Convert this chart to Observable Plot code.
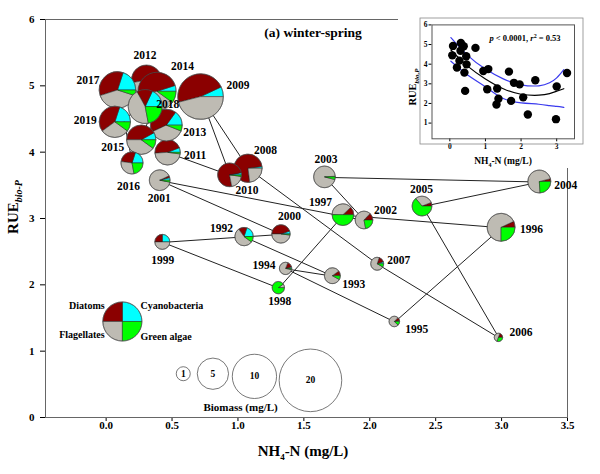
<!DOCTYPE html>
<html><head><meta charset="utf-8">
<script src="https://cdn.jsdelivr.net/npm/d3@7"></script>
<script src="https://cdn.jsdelivr.net/npm/@observablehq/plot@0.6"></script>
<style>
body{margin:0;background:#fff;}
#wrap{position:relative;width:600px;height:474px;overflow:hidden;}
#wrap svg{display:block;}
</style></head>
<body><div id="wrap"></div>
<script>
// ---------- data ----------
const years   = [1992,1993,1994,1995,1996,1997,1998,1999,2000,2001,2002,2003,2004,2005,2006,2007,2008,2009,2010,2011,2012,2013,2014,2015,2016,2017,2018,2019];
const nh4     = [1.05,1.72,1.365,2.19,3.00,1.80,1.31,0.43,1.33,0.41,1.96,1.66,3.29,2.40,2.98,2.06,1.08,0.72,0.94,0.47,0.31,0.46,0.39,0.27,0.20,0.09,0.30,0.07];
const rue     = [2.72,2.13,2.24,1.44,2.86,3.05,1.95,2.64,2.76,3.57,2.97,3.62,3.55,3.18,1.20,2.31,3.75,4.83,3.65,3.99,5.08,4.40,4.91,4.18,3.83,4.93,4.68,4.45];
const biomass = [1.73,1.3,0.78,0.57,4.0,2.4,0.78,1.15,1.73,2.2,1.6,2.4,2.7,2.0,0.36,0.86,4.1,10.6,2.9,3.3,4.6,5.2,7.4,4.4,2.5,6.8,5.9,5.0];
// composition fractions (order drawn counter-clockwise from 3 o'clock)
const cyano   = [0.20,0.00,0.04,0.03,0.00,0.00,0.00,0.25,0.05,0.04,0.00,0.00,0.00,0.00,0.00,0.05,0.02,0.07,0.03,0.06,0.03,0.15,0.05,0.08,0.20,0.20,0.18,0.20];
const diatoms = [0.15,0.10,0.15,0.10,0.07,0.12,0.00,0.25,0.45,0.03,0.13,0.01,0.04,0.06,0.20,0.15,0.75,0.47,0.75,0.45,0.50,0.42,0.48,0.42,0.28,0.35,0.15,0.40];
const flag    = [0.55,0.82,0.78,0.75,0.68,0.38,0.10,0.50,0.48,0.90,0.65,0.95,0.72,0.30,0.50,0.72,0.23,0.46,0.20,0.47,0.45,0.37,0.37,0.40,0.30,0.40,0.45,0.30];
const green   = [0.10,0.08,0.03,0.12,0.25,0.50,0.90,0.00,0.02,0.03,0.22,0.04,0.24,0.64,0.30,0.08,0.00,0.00,0.02,0.02,0.02,0.06,0.10,0.10,0.22,0.05,0.22,0.10];
const groups  = ["Cyanobacteria","Diatoms","Flagellates","Green algae"];

const xTicks = [0,0.5,1,1.5,2,2.5,3,3.5];
const yTicks = [0,1,2,3,4,5,6];
const sizeLegendValues = [1,5,10,20];
const insetXTicks = [0,1,2,3];
const insetYTicks = [1,2,3,4,5,6];

// inset curves
const curveX = [0.03,0.5,1,1.5,2,2.5,2.8,3.0,3.2];
const fitY   = [4.72,3.90,3.25,2.75,2.47,2.42,2.50,2.62,2.75];
const upperY = [5.35,4.45,3.75,3.25,2.95,2.90,3.05,3.30,3.72];
const lowerY = [4.15,3.45,2.85,2.25,2.03,1.96,1.89,1.85,1.80];

// ---------- layout / style ----------
const colors = {"Cyanobacteria":"#00ffff","Diatoms":"#8b0000","Flagellates":"#bebbb3","Green algae":"#00ff00"};
const serif = "'Liberation Serif','Times New Roman',serif";
const labelOff = {1992:[-23,-9],1993:[21,8],1994:[-22,-4],1995:[22,7],1996:[30,2],1997:[-23,-13],1998:[1,13],1999:[0,18],2000:[8,-18],2001:[-1,18],2002:[21,-10],2003:[1,-18],2004:[26,3],2005:[-1,-17],2006:[22,-6],2007:[21,-4],2008:[17,-18],2009:[37,-12],2010:[17,15],2011:[27,2],2012:[-2,-25],2013:[28,7],2014:[25,-25],2015:[-29,7],2016:[-4,23],2017:[-30,-10],2018:[22,-3],2019:[-30,-2]};
const sizeLegendPos = {x:[0.585,0.81,1.125,1.55], y:[0.66,0.66,0.62,0.56]};
const pieLegend = {x:0.127, y:1.44, b:7.8};
const pieLegendLabels = [
  {t:"Diatoms", x:-0.011, y:1.69, a:"end"},
  {t:"Flagellates", x:-0.011, y:1.24, a:"end"},
  {t:"Cyanobacteria", x:0.261, y:1.69, a:"start"},
  {t:"Green algae", x:0.261, y:1.22, a:"start"}
];

const rows = years.map((year,i)=>({year, nh4:nh4[i], rue:rue[i], biomass:biomass[i], parts:[cyano[i],diatoms[i],flag[i],green[i]]}));
const sizeRows = sizeLegendValues.map((b,i)=>({b, x:sizeLegendPos.x[i], y:sizeLegendPos.y[i]}));
const curveRows = (ys)=>curveX.map((x,i)=>({x, y:ys[i]}));

function drawPie(g, cx, cy, r, parts){
  const total = d3.sum(parts);
  let a0 = 0;
  const pg = g.append("g");
  parts.forEach((f,i)=>{
    if (f <= 0) return;
    const frac = f/total;
    const a1 = a0 + frac*2*Math.PI;
    let d;
    if (frac > 0.9999) d = `M${cx+r},${cy}A${r},${r} 0 1 0 ${cx-r},${cy}A${r},${r} 0 1 0 ${cx+r},${cy}Z`;
    else {
      const p0 = [cx + r*Math.cos(a0), cy - r*Math.sin(a0)];
      const p1 = [cx + r*Math.cos(a1), cy - r*Math.sin(a1)];
      d = `M${cx},${cy}L${p0[0]},${p0[1]}A${r},${r} 0 ${frac>0.5?1:0} 0 ${p1[0]},${p1[1]}Z`;
    }
    pg.append("path").attr("d", d).attr("fill", colors[groups[i]])
      .attr("stroke", "#222").attr("stroke-width", 0.5).attr("stroke-linejoin","round");
    a0 = a1;
  });
  pg.append("circle").attr("cx",cx).attr("cy",cy).attr("r",r)
    .attr("fill","none").attr("stroke","#555").attr("stroke-width",0.6);
}

const fallbackR = d3.scaleSqrt([0,20],[0,7*Math.sqrt(20)]);

function piesMark(index, scales){
  const X = scales.x, Y = scales.y, R = scales.r || fallbackR;
  const g = d3.create("svg:g");
  for (const d of rows) drawPie(g, X(d.nh4), Y(d.rue), R(d.biomass), d.parts);
  drawPie(g, X(pieLegend.x), Y(pieLegend.y), R(pieLegend.b), [1,1,1,1]);
  return g.node();
}

function annotMark(){
  const g = d3.create("svg:g").attr("font-family", serif).attr("font-weight","bold").attr("fill","#000");
  g.append("text").attr("x",313).attr("y",37).attr("text-anchor","middle").attr("font-size",13.5).text("(a) winter-spring");
  const xl = g.append("text").attr("x",303).attr("y",456).attr("text-anchor","middle").attr("font-size",15);
  xl.append("tspan").text("NH");
  xl.append("tspan").attr("font-size",9).attr("dy",4).text("4");
  xl.append("tspan").attr("dy",-4).text("-N (mg/L)");
  const yl = g.append("text").attr("transform","translate(18,207) rotate(-90)").attr("text-anchor","middle").attr("font-size",15);
  yl.append("tspan").text("RUE");
  yl.append("tspan").attr("font-size",10).attr("font-style","italic").attr("dy",4).text("bio-P");
  return g.node();
}

const main = Plot.plot({
  width:600, height:474,
  marginLeft:45, marginRight:33, marginTop:19, marginBottom:57,
  style:{fontFamily:serif, fontWeight:"bold", fontSize:"11px", color:"#000", background:"#fff", overflow:"visible"},
  x:{domain:[-0.46,3.5], ticks:xTicks, tickFormat:d3.format(".1f"), tickSize:4, tickPadding:0, label:null},
  y:{domain:[0,6], ticks:yTicks, tickFormat:d3.format("d"), tickSize:5, tickPadding:6, label:null},
  r:{type:"sqrt", domain:[0,20], range:[0,7*Math.sqrt(20)]},
  marks:[
    Plot.frame({stroke:"#666"}),
    Plot.line(rows, {x:"nh4", y:"rue", stroke:"#222", strokeWidth:1}),
    Plot.dot(sizeRows, {x:"x", y:"y", r:"b", fill:"#fff", stroke:"#555", strokeWidth:0.8}),
    Plot.text(sizeRows, {x:"x", y:"y", text:d=>String(d.b), fontSize:9.5}),
    piesMark,
    ...rows.map(d=>Plot.text([d], {x:"nh4", y:"rue", text:d=>String(d.year), dx:labelOff[d.year][0], dy:labelOff[d.year][1], fontSize:11.5})),
    Plot.text(pieLegendLabels.filter(d=>d.a==="end"), {x:"x", y:"y", text:"t", textAnchor:"end", fontSize:10}),
    Plot.text(pieLegendLabels.filter(d=>d.a==="start"), {x:"x", y:"y", text:"t", textAnchor:"start", fontSize:10}),
    Plot.text(["Biomass (mg/L)"], {x:1.02, y:0.15, text:d=>d, fontSize:11}),
    annotMark
  ]
});

// ---------- inset ----------
function insetDecor(){
  const g = d3.create("svg:g").attr("font-family", serif).attr("font-weight","bold").attr("fill","#000");
  g.append("rect").attr("x",22).attr("y",2).attr("width",163).attr("height",126).attr("fill","none").attr("stroke","#888").attr("stroke-width",0.8);
  return g.node();
}
function insetText(){
  const g = d3.create("svg:g").attr("font-family", serif).attr("font-weight","bold").attr("fill","#000");
  const st = g.append("text").attr("x",127).attr("y",25).attr("text-anchor","middle").attr("font-size",8.5);
  st.append("tspan").attr("font-style","italic").text("p");
  st.append("tspan").text(" < 0.0001, ");
  st.append("tspan").attr("font-style","italic").text("r");
  st.append("tspan").attr("font-size",6).attr("dy",-3).text("2");
  st.append("tspan").attr("dy",3).text(" = 0.53");
  const xl = g.append("text").attr("x",105).attr("y",148).attr("text-anchor","middle").attr("font-size",9.5);
  xl.append("tspan").text("NH");
  xl.append("tspan").attr("font-size",6).attr("dy",2.5).text("4");
  xl.append("tspan").attr("dy",-2.5).text("-N (mg/L)");
  const yl = g.append("text").attr("transform","translate(18,71) rotate(-90)").attr("text-anchor","middle").attr("font-size",10.5);
  yl.append("tspan").text("RUE");
  yl.append("tspan").attr("font-size",7).attr("font-style","italic").attr("dy",3).text("bio,P");
  return g.node();
}

const inset = Plot.plot({
  width:192, height:152,
  marginLeft:33.5, marginRight:16, marginTop:8.4, marginBottom:29.7,
  style:{fontFamily:serif, fontWeight:"bold", fontSize:"7.5px", color:"#000", background:"#fff", overflow:"visible"},
  x:{domain:[-0.5,3.5], ticks:insetXTicks, tickFormat:d3.format("d"), tickSize:3, tickPadding:2, label:null},
  y:{domain:[0.2,6], ticks:insetYTicks, tickFormat:d3.format("d"), tickSize:3, tickPadding:1.5, label:null},
  marks:[
    insetDecor,
    Plot.frame({stroke:"#555"}),
    Plot.line(curveRows(upperY), {x:"x", y:"y", stroke:"#3a3aee", strokeWidth:1.2, curve:"natural"}),
    Plot.line(curveRows(lowerY), {x:"x", y:"y", stroke:"#3a3aee", strokeWidth:1.2, curve:"natural"}),
    Plot.line(curveRows(fitY), {x:"x", y:"y", stroke:"#000", strokeWidth:1.2, curve:"natural"}),
    Plot.dot(rows, {x:"nh4", y:"rue", r:4.2, fill:"#000", stroke:"none"}),
    insetText
  ]
});

const wrap = document.getElementById("wrap");
wrap.appendChild(main);
inset.style.position = "absolute";
inset.style.left = "398px";
inset.style.top = "16px";
wrap.appendChild(inset);
</script></body></html>
